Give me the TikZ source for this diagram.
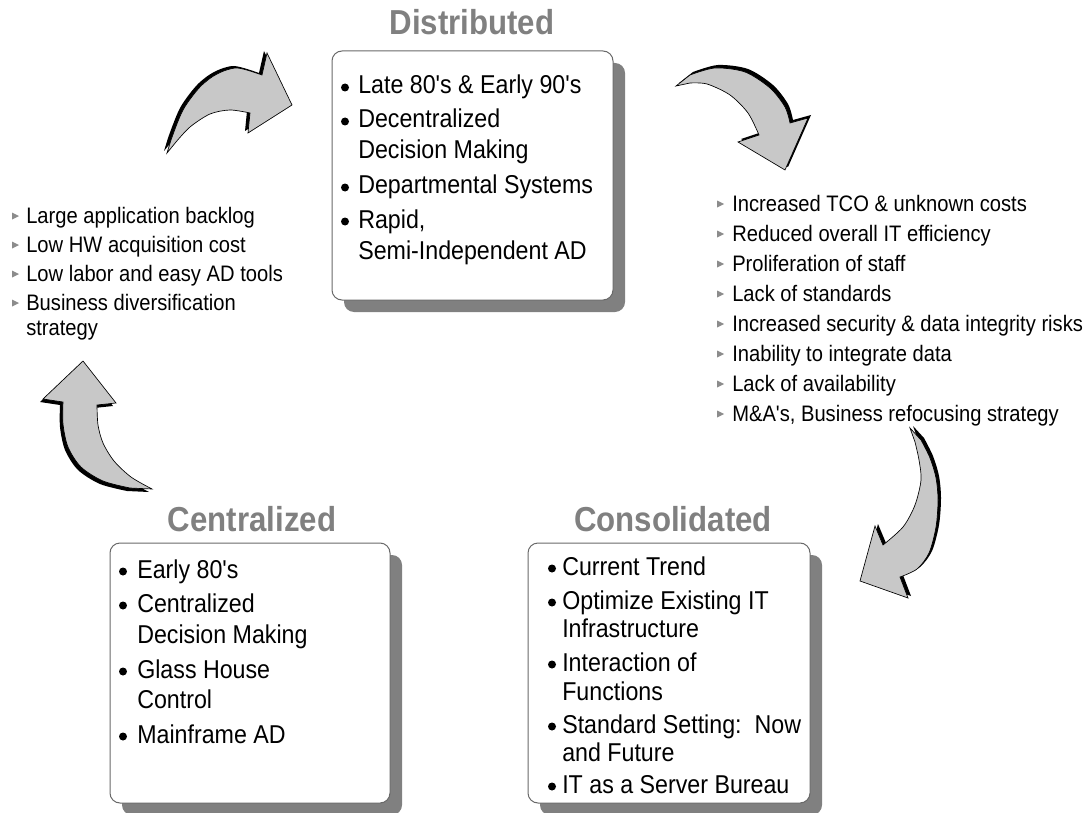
\documentclass[tikz,border=0pt]{standalone}
\usepackage{fontspec}
\setmainfont{Liberation Sans}[FakeStretch=0.9, Ligatures=TeXOff]
\definecolor{titlegray}{RGB}{128,128,128}
\definecolor{shadowgray}{RGB}{128,128,128}
\definecolor{arrowgray}{RGB}{200,200,200}
\definecolor{markgray}{RGB}{140,140,140}
\definecolor{framegray}{RGB}{105,105,105}

% curved cycle arrows, in pixel units (y grows downward)
\def\arrowTL{(167,153) -- plot[smooth] coordinates {(171,140) (183,110) (200,87) (217,74) (237,68) (262,75)} -- (267,53) -- (292,105) -- (248,133) -- plot[smooth] coordinates {(250,113) (230,110) (210,114) (190,127) (176,142)} -- cycle}
\def\arrowTR{(676,86) -- plot[smooth] coordinates {(690,75) (715,68) (745,72) (770,88) (785,107) (790,123)} -- (808,118) -- (785,170) -- (738,142) -- plot[smooth] coordinates {(759,135) (748,113) (730,95) (707,84) (690,83)} -- cycle}
\def\arrowBR{(910,428) -- plot[smooth] coordinates {(921,440) (930,458) (936,478) (938,500) (936,527) (929,553) (917,569) (900,577)} -- (908,598) -- (860,581) -- (875,526) -- plot[smooth] coordinates {(883,545) (903,527) (915,505) (921,480) (919,460) (915,442)} -- cycle}
\def\arrowL{(83,361) -- (116,403) -- plot[smooth] coordinates {(97,405) (98,425) (103,443) (114,461) (131,477) (152,489)} -- plot[smooth] coordinates {(130,488) (103,481) (81,467) (68,447) (63,424) (63,402)} -- (43,399) -- cycle}

\newcommand\dotmark[2]{\fill (#1,#2-6.5) circle[radius=4];}
\newcommand\sidemark[2]{\fill[markgray] (#1,#2-10.5) -- (#1+7,#2-7) -- (#1,#2-3.5) -- cycle;}

\begin{document}
\begin{tikzpicture}[x=0.75pt,y=-0.75pt,
  boxtxt/.style={anchor=base west, inner sep=0pt, font=\fontsize{19.35}{20}\selectfont},
  sidetxt/.style={anchor=base west, inner sep=0pt, font=\fontsize{16.8}{17}\selectfont},
  phase/.style={anchor=base, inner sep=0pt, text=titlegray, font=\fontsize{26}{26}\selectfont\bfseries},
  panel/.style={draw=framegray, line width=0.75pt, fill=white, rounded corners=7.5pt},
  panelshadow/.style={fill=shadowgray, rounded corners=7.5pt},
  cyclearrow/.style={fill=arrowgray, draw=black, line width=0.5pt, line join=miter},
  arrowshadow/.style={fill=black}]
\useasboundingbox (0,0) rectangle (1088,813);
\fill[white] (0,0) rectangle (1088,813);

% phase titles
\node[phase] (tDist) at (472,35) {Distributed};
\node[phase] (tCent) at (252,531) {Centralized};
\node[phase] (tCons) at (673,531) {Consolidated};

% panels with drop shadows
\fill[panelshadow] (344,63) rectangle (625,312);
\draw[panel] (332,51) rectangle (613,300);
\fill[panelshadow] (122,555) rectangle (402,815);
\draw[panel] (110,543) rectangle (390,803);
\fill[panelshadow] (540,555) rectangle (822,815);
\draw[panel] (528,543) rectangle (810,803);

% Distributed
\dotmark{345}{94}\dotmark{345}{128}\dotmark{345}{194}\dotmark{345}{228}
\node[boxtxt] (d1) at (358,94) {Late 80's \& Early 90's};
\node[boxtxt] (d2) at (358,128) {Decentralized};
\node[boxtxt] (d3) at (358,159) {Decision Making};
\node[boxtxt] (d4) at (358,194) {Departmental Systems};
\node[boxtxt] (d5) at (358,228) {Rapid,};
\node[boxtxt] (d6) at (358,259) {Semi-Independent AD};

% Centralized
\dotmark{123}{578}\dotmark{123}{612}\dotmark{123}{678}\dotmark{123}{743}
\node[boxtxt] (c1) at (137,578) {Early 80's};
\node[boxtxt] (c2) at (137,612) {Centralized};
\node[boxtxt] (c3) at (137,643) {Decision Making};
\node[boxtxt] (c4) at (137,678) {Glass House};
\node[boxtxt] (c5) at (137,708) {Control};
\node[boxtxt] (c6) at (137,743) {Mainframe AD};

% Consolidated
\dotmark{552}{575}\dotmark{552}{609}\dotmark{552}{671}\dotmark{552}{733}\dotmark{552}{793}
\node[boxtxt] (k1) at (562,575) {Current Trend};
\node[boxtxt] (k2) at (562,609) {Optimize Existing IT};
\node[boxtxt] (k3) at (562,637) {Infrastructure};
\node[boxtxt] (k4) at (562,671) {Interaction of};
\node[boxtxt] (k5) at (562,700) {Functions};
\node[boxtxt] (k6) at (562,733) {Standard Setting:\ \ Now};
\node[boxtxt] (k7) at (562,761) {and Future};
\node[boxtxt] (k8) at (562,793) {IT as a Server Bureau};

% drivers toward distribution
\sidemark{12}{223}\sidemark{12}{252}\sidemark{12}{281}\sidemark{12}{310}
\node[sidetxt] (l1) at (26,223) {Large application backlog};
\node[sidetxt] (l2) at (26,252) {Low HW acquisition cost};
\node[sidetxt] (l3) at (26,281) {Low labor and easy AD tools};
\node[sidetxt] (l4) at (26,310) {Business diversification};
\node[sidetxt] (l5) at (26,335) {strategy};

% drivers toward consolidation
\foreach \yy in {211,241,271,301,331,361,391,421} {\sidemark{717}{\yy}}
\node[sidetxt] (r1) at (732,211) {Increased TCO \& unknown costs};
\node[sidetxt] (r2) at (732,241) {Reduced overall IT efficiency};
\node[sidetxt] (r3) at (732,271) {Proliferation of staff};
\node[sidetxt] (r4) at (732,301) {Lack of standards};
\node[sidetxt] (r5) at (732,331) {Increased security \& data integrity risks};
\node[sidetxt] (r6) at (732,361) {Inability to integrate data};
\node[sidetxt] (r7) at (732,391) {Lack of availability};
\node[sidetxt] (r8) at (732,421) {M\&A's, Business refocusing strategy};

% cycle arrows with dark offset shadows
\fill[arrowshadow, shift={(-3,-2)}] \arrowTL;
\filldraw[cyclearrow] \arrowTL;
\fill[arrowshadow, shift={(3,-3)}] \arrowTR;
\filldraw[cyclearrow] \arrowTR;
\fill[arrowshadow, shift={(3,-2)}] \arrowBR;
\filldraw[cyclearrow] \arrowBR;
\fill[arrowshadow, shift={(-3,3)}] \arrowL;
\filldraw[cyclearrow] \arrowL;
\end{tikzpicture}
\end{document}
